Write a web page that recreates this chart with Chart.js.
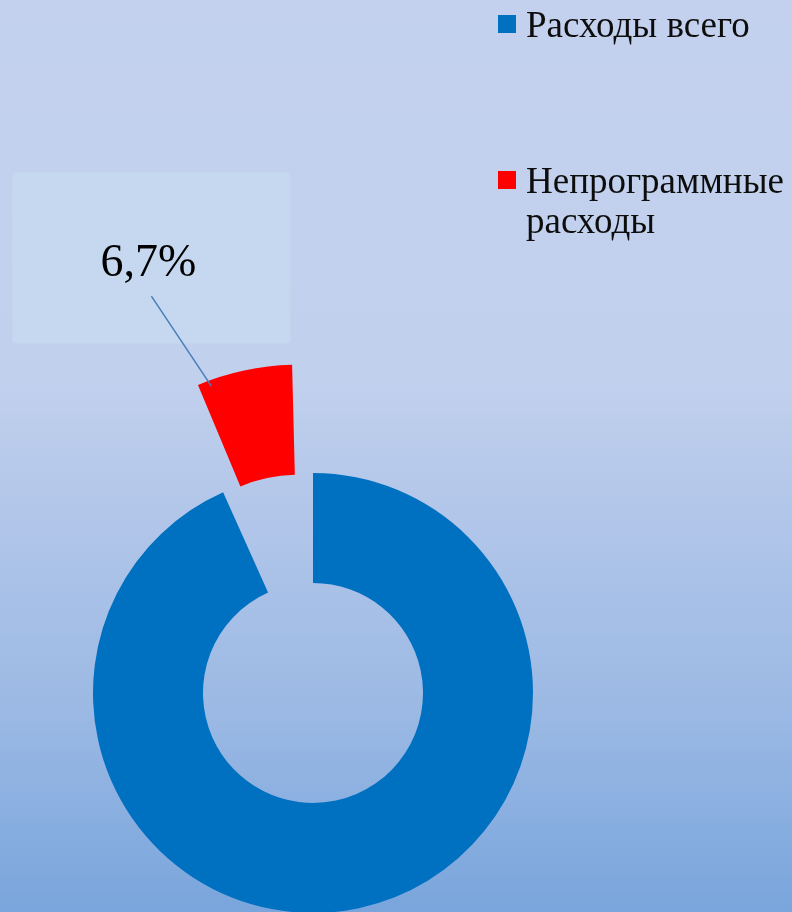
<!DOCTYPE html>
<html lang="ru">
<head>
<meta charset="utf-8">
<script src="https://cdn.jsdelivr.net/npm/chart.js@4/dist/chart.umd.min.js"></script>
<style>
  html, body { margin: 0; padding: 0; }
  body { width: 792px; height: 912px; overflow: hidden; }
  canvas { display: block; }
</style>
</head>
<body>
<canvas id="chart" width="792" height="912"></canvas>
<script>
// data
const categories = ["Расходы всего", ["Непрограммные", "расходы"]];
const shares = [93.3, 6.7];
const sliceColors = ["#0070c0", "#ff0000"];
const labelledSlice = 1;

const bgPlugin = {
    id: "bg",
    beforeDraw(chart) {
        const ctx = chart.ctx;
        const g = ctx.createLinearGradient(0, 0, 0, chart.height);
        g.addColorStop(0, "#c3d1ee");
        g.addColorStop(0.42, "#c1d0ed");
        g.addColorStop(0.58, "#b0c5e9");
        g.addColorStop(0.78, "#9bb9e4");
        g.addColorStop(1, "#79a5dc");
        ctx.save();
        ctx.fillStyle = g;
        ctx.fillRect(0, 0, chart.width, chart.height);
        ctx.restore();
    },
};

// data label with leader line, like the office chart
const calloutPlugin = {
    id: "callout",
    afterDraw(chart) {
        const arc = chart.getDatasetMeta(0).data[labelledSlice];
        if (!arc) return;
        const ctx = chart.ctx;
        const t = (arc.options.offset || 0) / 4;
        const mid = (arc.startAngle + arc.endAngle) / 2;
        const fix = 1 - Math.sin(Math.min(Math.PI, arc.endAngle - arc.startAngle));
        const cx = arc.x + Math.cos(mid) * t;
        const cy = arc.y + Math.sin(mid) * t;
        const a = arc.startAngle + 0.17 * (arc.endAngle - arc.startAngle);
        const r = arc.outerRadius + t * fix - 6;
        const ax = cx + Math.cos(a) * r;
        const ay = cy + Math.sin(a) * r;

        const boxW = 278, boxH = 171;
        const bx = ax - 60, by = ay - 128;
        ctx.save();
        ctx.fillStyle = "rgba(202,223,243,0.55)";
        ctx.beginPath();
        ctx.roundRect(bx - boxW / 2, by - boxH / 2, boxW, boxH, 4);
        ctx.fill();

        ctx.strokeStyle = "#4a7ebb";
        ctx.lineWidth = 1.5;
        ctx.beginPath();
        ctx.moveTo(ax - 60, ay - 90);
        ctx.lineTo(ax, ay);
        ctx.stroke();

        ctx.fillStyle = "#000";
        ctx.font = "46px 'Liberation Serif', 'Times New Roman', serif";
        ctx.textAlign = "center";
        ctx.textBaseline = "alphabetic";
        const txt = shares[labelledSlice].toFixed(1).replace(".", ",") + "%";
        ctx.fillText(txt, bx - 3, by + 18);
        ctx.restore();
    },
};

const legendPlugin = {
    id: "sideLegend",
    afterDraw(chart) {
        const ctx = chart.ctx;
        const x0 = 498;
        const tops = [15, 171];
        const lineH = 40;
        ctx.save();
        ctx.font = "37px 'Liberation Serif', 'Times New Roman', serif";
        ctx.textBaseline = "alphabetic";
        ctx.textAlign = "left";
        categories.forEach((cat, i) => {
            const lines = Array.isArray(cat) ? cat : [cat];
            ctx.fillStyle = sliceColors[i];
            ctx.fillRect(x0, tops[i], 18, 18);
            ctx.fillStyle = "#0d0d0d";
            lines.forEach((ln, j) => {
                ctx.fillText(ln, x0 + 28, tops[i] + 22 + j * lineH);
            });
        });
        ctx.restore();
    },
};

new Chart(document.getElementById("chart"), {
    type: "doughnut",
    data: {
        labels: categories,
        datasets: [
            {
                data: shares,
                backgroundColor: sliceColors,
                borderWidth: 0,
                offset: [0, 276],
                hoverOffset: 0,
                clip: false,
            },
        ],
    },
    options: {
        responsive: false,
        animation: false,
        radius: 220,
        cutout: "50%",
        layout: {
            padding: { left: 0, right: 166, top: 474, bottom: 0 },
        },
        plugins: {
            legend: { display: false },
            tooltip: { enabled: false },
        },
    },
    plugins: [bgPlugin, calloutPlugin, legendPlugin],
});
</script>
</body>
</html>
